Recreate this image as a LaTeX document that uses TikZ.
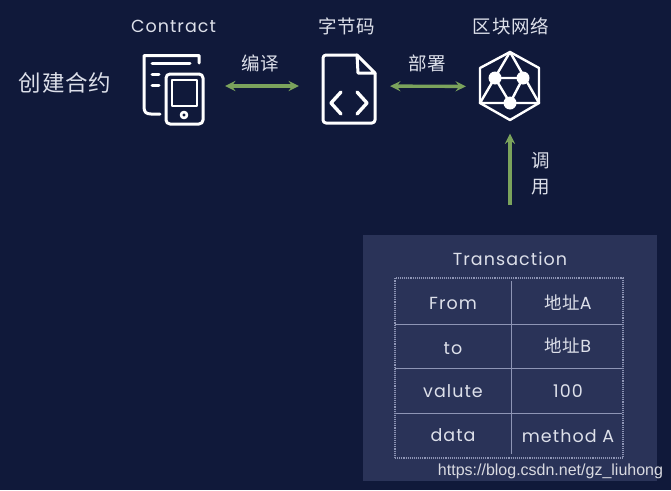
\documentclass[tikz,border=0pt]{standalone}
\usepackage{fontspec}
\setmainfont[LetterSpace=6]{Poppins}
\newfontfamily\cjk[LetterSpace=4]{Noto Sans CJK SC}
\newfontfamily\markfont{Liberation Sans}
\usetikzlibrary{arrows}
\definecolor{bgcol}{HTML}{10193A}
\definecolor{panelcol}{HTML}{2A3358}
\definecolor{flowcol}{HTML}{7BA35C}
\definecolor{rulecol}{HTML}{8E95B5}
\definecolor{txtcol}{HTML}{DDE0EA}
\tikzstyle{icon}=[minimum width=60pt,minimum height=70pt,inner sep=0pt]
\tikzstyle{flow}=[flowcol,line width=3.4pt,>=stealth]
\tikzstyle{ink}=[white,line width=3pt,line join=round,line cap=round]
\tikzstyle{title}=[txtcol,font=\fontsize{17.5}{20}\selectfont]
\tikzstyle{cell}=[txtcol,font=\fontsize{17.5}{20}\selectfont]
\tikzstyle{hanzi}=[txtcol,font=\fontsize{18.5}{20}\selectfont\cjk]
\tikzstyle{rule}=[rulecol,line width=0.9pt]
\begin{document}
\begin{tikzpicture}[x=1pt,y=-1pt]
\fill[bgcol] (0,0) rectangle (671,490);
\useasboundingbox (0,0) rectangle (671,490);
\fill[panelcol] (363,235) rectangle (657,481);
\node (create) [hanzi,font=\fontsize{22.5}{24}\selectfont\cjk] at (65,83) {创建合约};
\node (contractname) [title] at (173.5,26) {Contract};
\node (codename) [hanzi] at (347,26) {字节码};
\node (netname) [hanzi] at (511,26) {区块网络};
\node (contract) [icon] at (174,86) {};
\node (bytecode) [icon] at (349,86) {};
\node (network) [icon] at (510,86.5) {};
\coordinate (callfoot) at (510,205);
\draw [flow,<->,shorten >=20pt,shorten <=21pt] (contract) -- node[hanzi,above=9pt,xshift=-1pt] {编译} (bytecode);
\draw [flow,<->,shorten >=14pt,shorten <=11pt] (bytecode) -- node[hanzi,above=9pt,xshift=-2pt] {部署} (network);
\draw [flow,->,shorten >=12pt] (callfoot) -- (network);
\node (callone) [hanzi] at (541,161) {调};
\node (calltwo) [hanzi] at (541,187) {用};
% contract icon
\draw [ink] (199,63) -- (199,55.5) -- (144,55.5) -- (144,107) .. controls (144,112) and (146,114) .. (151,114) -- (160,114);
\draw [ink] (152,63) -- (190,63);
\draw [ink] (152,74) -- (159,74);
\draw [ink] (152,85) -- (159,85);
\draw [ink,rounded corners=4pt] (166,74) rectangle (203,124);
\draw [ink,line width=2.6pt] (172,80) rectangle (197,106);
\draw [ink,line width=2.6pt] (184,115) circle (3pt);
% bytecode icon
\draw [ink,rounded corners=3pt] (357,55) -- (323,55) -- (323,123) -- (375,123) -- (375,73);
\draw [ink] (357,55) -- (375,73) -- (358,73) -- cycle;
\draw [ink,line width=3.4pt] (341,92) -- (331,103) -- (341,114);
\draw [ink,line width=3.4pt] (357,92) -- (367,103) -- (357,114);
% network icon
\draw [ink,line width=2.4pt] (510,52) -- (539,68) -- (539,103) -- (510,120) -- (480,103) -- (480,68) -- cycle;
\draw [ink,line width=2.4pt] (510,52) -- (480,103) -- (539,103) -- cycle;
\draw [ink,line width=2.4pt] (495,78) -- (523,78) -- (510,103) -- cycle;
\foreach \cx/\cy in {495/78,523/78,510/103}
  \fill[white] (\cx,\cy) circle (6.5pt);
% transaction panel
\node (txname) [title] at (510,259) {Transaction};
\node (txbox) [draw=rulecol,densely dotted,line width=1.1pt,minimum width=228pt,minimum height=180pt,inner sep=0pt] at (509,368) {};
\draw [rule] (511,281) -- (511,454);
\foreach \ry in {324,368,413}
  \draw [rule] (395,\ry) -- (622,\ry);
\node (fromkey) [cell] at (453,303) {From};
\node (tokey) [cell] at (453,349) {to};
\node (valkey) [cell] at (453,391) {valute};
\node (datakey) [cell] at (453,435) {data};
\node (fromval) [cell] at (568,303) {{\cjk 地址}A};
\node (toval) [cell] at (568,346) {{\cjk 地址}B};
\node (valval) [cell] at (568,391) {100};
\node (dataval) [cell] at (568,436) {method A};
\node (mark) [font=\fontsize{16}{18}\selectfont\markfont,text=white!82!panelcol,inner sep=0pt] at (550.5,471) {https://blog.csdn.net/gz\_liuhong};
\end{tikzpicture}
\end{document}
